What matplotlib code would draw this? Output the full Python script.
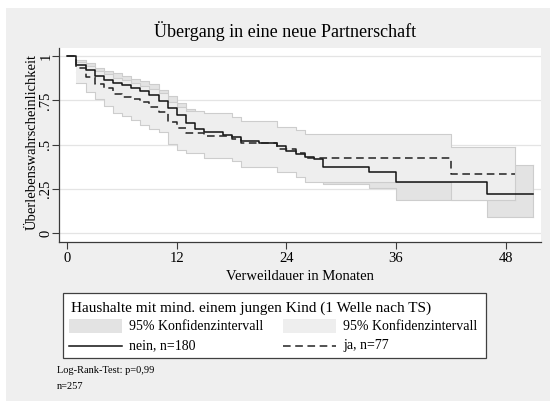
import numpy as np
import matplotlib.pyplot as plt
from matplotlib.patches import Rectangle

plt.rcParams['font.family'] = ['Liberation Serif', 'DejaVu Serif']

# Kaplan-Meier steps (months, survival, 95% CI)
nein_t = [0, 1, 2, 3, 4, 5, 6, 7, 8, 9, 10, 11, 12, 13, 14, 15, 17, 18, 19, 21, 23, 24, 25, 26, 27, 28, 33, 36, 46]
nein_s = [1, .95, .92, .885, .866, .85, .835, .817, .80, .78, .746, .705, .667, .62, .587, .57, .556, .545, .522, .511,
          .49, .464, .45, .432, .42, .372, .348, .291, .22]
nein_lo = [1, .91, .875, .835, .81, .79, .775, .755, .735, .71, .675, .63, .59, .545, .51, .49, .475, .465, .44, .43,
           .41, .38, .365, .35, .335, .278, .254, .188, .09]
nein_hi = [1, .978, .958, .932, .917, .902, .887, .872, .857, .84, .81, .772, .735, .70, .686, .665, .65, .64, .62, .61,
           .59, .565, .55, .53, .52, .47, .45, .40, .385]
nein_end = 51

ja_t = [0, 1, 2, 3, 4, 5, 6, 7, 8, 9, 10, 11, 12, 13, 15, 18, 19, 23, 25, 26, 42]
ja_s = [1, .934, .883, .84, .818, .784, .767, .756, .739, .714, .686, .626, .596, .564, .55, .53, .508, .477, .451,
        .426, .334]
ja_lo = [1, .85, .795, .755, .72, .68, .66, .64, .61, .59, .57, .505, .468, .455, .425, .405, .375, .345, .32, .291, .188]
ja_hi = [1, .968, .945, .915, .90, .875, .862, .85, .833, .815, .79, .74, .715, .692, .677, .654, .635, .60, .58, .558, .489]
ja_end = 49

W, H = 550, 401
BAND_NEIN = '#e3e3e3'
BAND_JA = '#eeeeee'
EDGE = '#cdcdcd'


def px(x, y):
    return x / W, 1 - y / H


def step_xy(t, v, end):
    return list(t) + [end], list(v) + [v[-1]]


fig = plt.figure(figsize=(5.5, 4.01), dpi=100)
fig.patch.set_facecolor('white')
fig.add_artist(Rectangle((6 / W, 0), 1, 1 - 8 / H, transform=fig.transFigure,
                         facecolor='#efefef', edgecolor='none', zorder=-10))

ax = fig.add_axes([59 / W, 1 - 242 / H, (541 - 59) / W, (242 - 47.7) / H])
ax.set_facecolor('white')
ax.set_xlim(-(67.3 - 59) / 9.13, (541 - 67.3) / 9.13)
ax.set_ylim((233.3 - 242) / 177.3, (233.3 - 47.7) / 177.3)

for g in [0, .25, .5, .75, 1]:
    ax.axhline(g, color='#e4e4e4', lw=0.9, zorder=0)

# confidence bands: nein first, ja painted over it
for t, lo, hi, end, col, z in [(nein_t, nein_lo, nein_hi, nein_end, BAND_NEIN, 1),
                               (ja_t, ja_lo, ja_hi, ja_end, BAND_JA, 2)]:
    x, ylo = step_xy(t[1:], lo[1:], end)
    _, yhi = step_xy(t[1:], hi[1:], end)
    ax.fill_between(x, ylo, yhi, step='post', facecolor=col, edgecolor='none', zorder=z)
    ax.step(x, ylo, where='post', color=EDGE, lw=0.8, zorder=z + 0.1)
    ax.step(x, yhi, where='post', color=EDGE, lw=0.8, zorder=z + 0.1)
    ax.plot([x[-1], x[-1]], [ylo[-1], yhi[-1]], color=EDGE, lw=0.8, zorder=z + 0.1)

x, y = step_xy(nein_t, nein_s, nein_end)
ax.step(x, y, where='post', color='#111111', lw=1.1, zorder=4)
x, y = step_xy(ja_t, ja_s, ja_end)
ax.step(x, y, where='post', color='#222222', lw=1.1, dashes=(5, 3), zorder=4)

for s in ['top', 'right']:
    ax.spines[s].set_visible(False)
for s in ['left', 'bottom']:
    ax.spines[s].set_color('#3a3a3a')
    ax.spines[s].set_linewidth(0.9)

ax.set_xticks([0, 12, 24, 36, 48])
ax.set_yticks([0, .25, .5, .75, 1])
ax.set_yticklabels(['0', '.25', '.5', '.75', '1'], rotation=90, va='center', ha='center')
ax.tick_params(direction='out', length=5, width=0.8, color='#3a3a3a', labelsize=10.5)
ax.tick_params(axis='x', pad=2.5)
ax.tick_params(axis='y', pad=4.5)

fig.text(*px(285.5, 31), 'Übergang in eine neue Partnerschaft', ha='center', va='center', fontsize=13)
fig.text(*px(32, 142), 'Überlebenswahrscheinlichkeit', ha='center', va='center', rotation=90, fontsize=10.5)
fig.text(*px(300, 277), 'Verweildauer in Monaten', ha='center', va='center', fontsize=10.5)

# legend and notes
lg = fig.add_axes([0, 0, 1, 1])
lg.set_xlim(0, W)
lg.set_ylim(H, 0)
lg.axis('off')
lg.add_patch(Rectangle((63.3, 293.3), 422.4, 65, facecolor='white', edgecolor='#404040', lw=0.9))
lg.text(70.7, 308.5, 'Haushalte mit mind. einem jungen Kind (1 Welle nach TS)', ha='left', va='center', fontsize=11)
lg.add_patch(Rectangle((69, 319.3), 52.7, 14, facecolor=BAND_NEIN, edgecolor='none'))
lg.add_patch(Rectangle((283.3, 319.3), 52.7, 14, facecolor=BAND_JA, edgecolor='none'))
lg.text(129.3, 327, '95% Konfidenzintervall', ha='left', va='center', fontsize=10)
lg.text(343.3, 327, '95% Konfidenzintervall', ha='left', va='center', fontsize=10)
lg.plot([69, 121.7], [346, 346], color='#111111', lw=1.1)
lg.plot([283.3, 336], [346, 346], color='#222222', lw=1.1, dashes=(5, 3))
lg.text(129.3, 345.5, 'nein, n=180', ha='left', va='center', fontsize=10)
lg.text(343.3, 345.5, 'ja, n=77', ha='left', va='center', fontsize=10)
lg.text(57, 370.7, 'Log-Rank-Test: p=0,99', ha='left', va='center', fontsize=7.5)
lg.text(57, 386.7, 'n=257', ha='left', va='center', fontsize=7.5)

fig.savefig('out.png', dpi=100, facecolor=fig.get_facecolor())
